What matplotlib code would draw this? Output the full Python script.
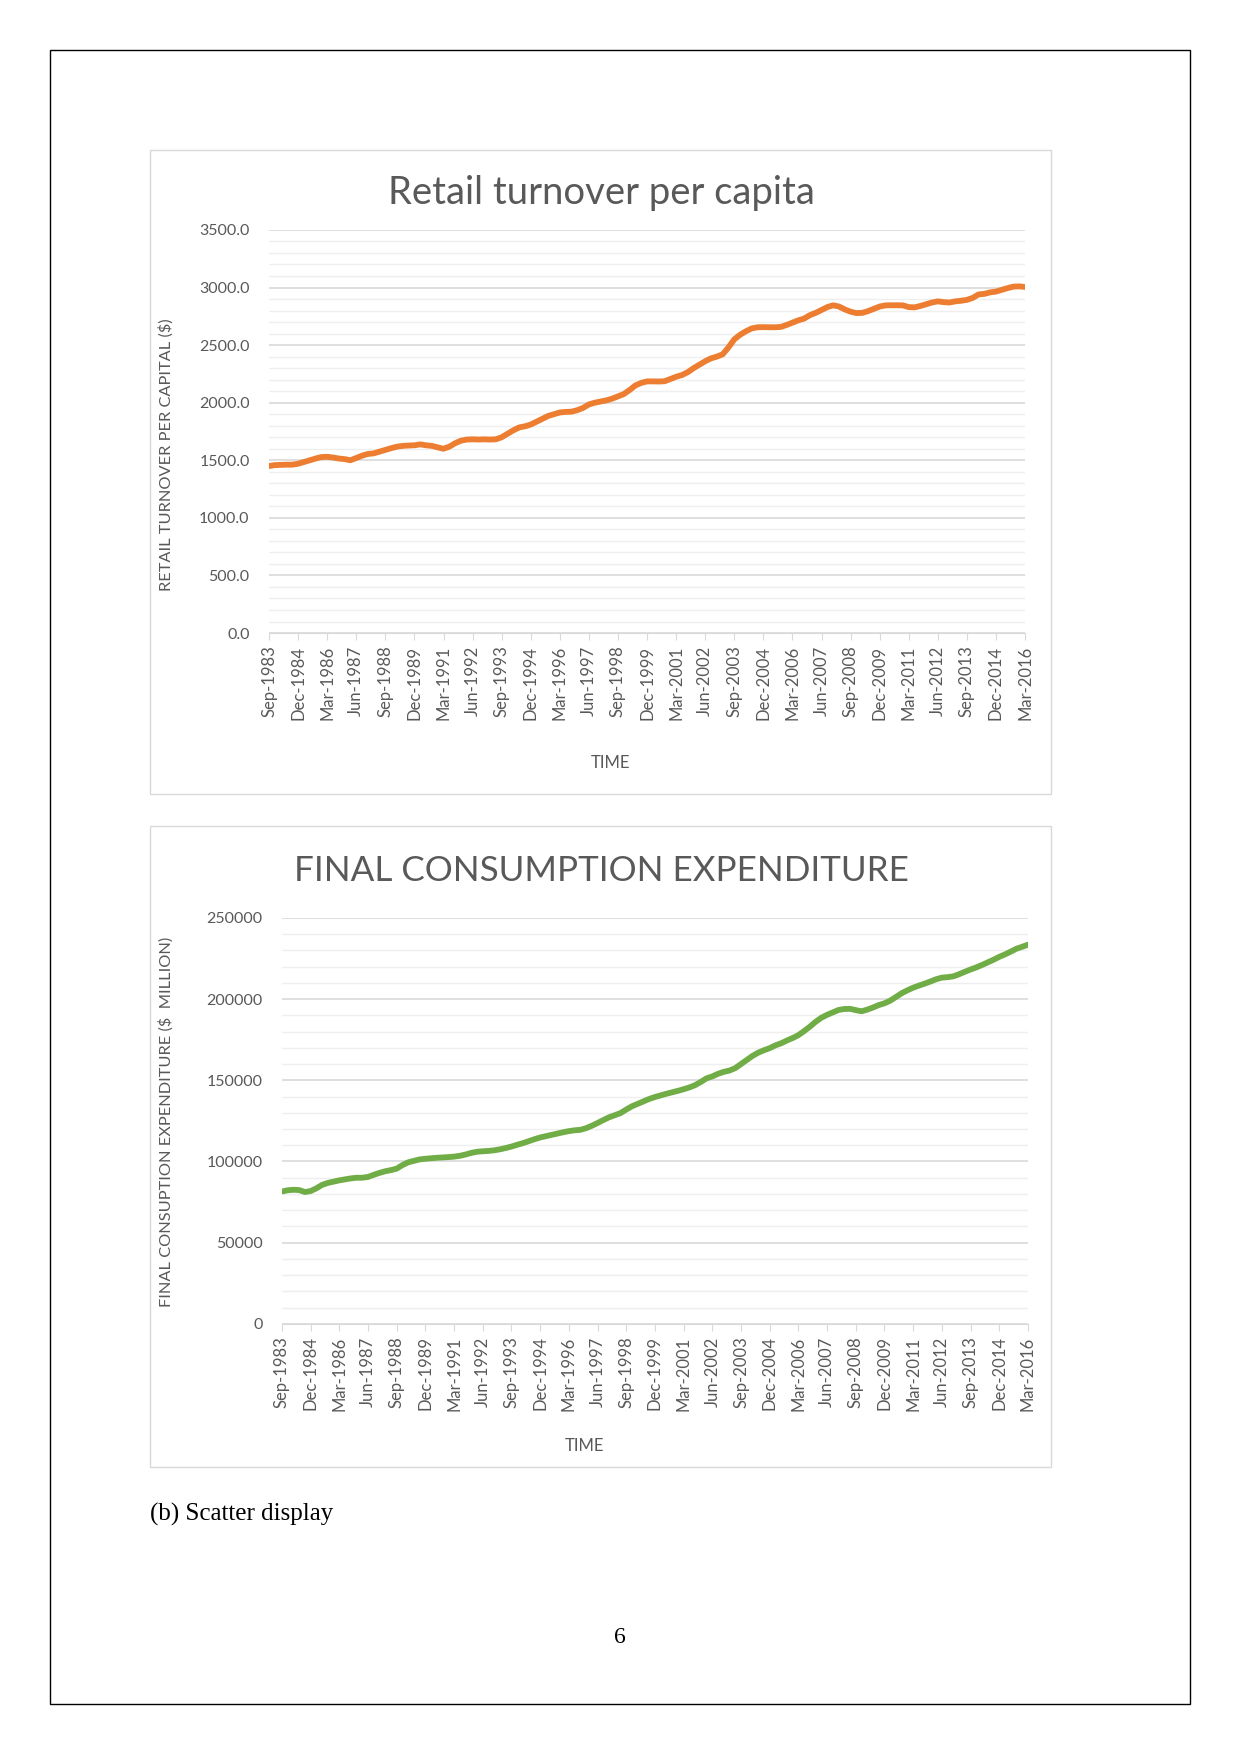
import numpy as np
import matplotlib
matplotlib.use("Agg")
import matplotlib.pyplot as plt
from matplotlib.patches import Rectangle
from matplotlib.ticker import MultipleLocator, FixedLocator

# quarterly labels, Sep-1983 .. Mar-2016 (131 quarters), a label every 5th quarter
tick_labels = ["Sep-1983", "Dec-1984", "Mar-1986", "Jun-1987", "Sep-1988", "Dec-1989",
               "Mar-1991", "Jun-1992", "Sep-1993", "Dec-1994", "Mar-1996", "Jun-1997",
               "Sep-1998", "Dec-1999", "Mar-2001", "Jun-2002", "Sep-2003", "Dec-2004",
               "Mar-2006", "Jun-2007", "Sep-2008", "Dec-2009", "Mar-2011", "Jun-2012",
               "Sep-2013", "Dec-2014", "Mar-2016"]

retail = [1450, 1458, 1460, 1462, 1462, 1470, 1485, 1500, 1515, 1528,
          1530, 1524, 1515, 1510, 1500, 1520, 1540, 1555, 1560, 1575,
          1590, 1605, 1618, 1625, 1628, 1630, 1638, 1630, 1625, 1612,
          1600, 1618, 1648, 1670, 1680, 1682, 1680, 1682, 1680, 1682,
          1700, 1730, 1760, 1785, 1795, 1810, 1835, 1860, 1885, 1900,
          1915, 1920, 1922, 1935, 1955, 1985, 2000, 2010, 2020, 2035,
          2055, 2075, 2110, 2150, 2172, 2185, 2185, 2184, 2186, 2205,
          2225, 2240, 2265, 2300, 2330, 2360, 2385, 2400, 2420, 2480,
          2550, 2590, 2620, 2645, 2655, 2656, 2655, 2655, 2658, 2675,
          2695, 2715, 2730, 2760, 2780, 2805, 2830, 2846, 2835, 2810,
          2790, 2778, 2780, 2795, 2815, 2835, 2845, 2846, 2846, 2845,
          2830, 2828, 2840, 2855, 2870, 2880, 2873, 2870, 2880, 2885,
          2893, 2910, 2940, 2945, 2958, 2965, 2980, 2995, 3008, 3010,
          3005]

fce = [81500, 82300, 82600, 82400, 81200, 81800, 83500, 85600, 86800, 87600,
       88400, 89000, 89600, 90000, 90000, 90500, 91800, 93000, 94000, 94700,
       95600, 97800, 99500, 100400, 101300, 101700, 102000, 102300, 102500, 102700,
       103000, 103500, 104300, 105300, 106000, 106300, 106500, 106900, 107500, 108300,
       109200, 110300, 111300, 112500, 113700, 114800, 115600, 116400, 117200, 118000,
       118700, 119200, 119500, 120500, 122000, 123700, 125500, 127200, 128500, 129800,
       132000, 134000, 135500, 137000, 138500, 139700, 140700, 141700, 142600, 143500,
       144500, 145600, 147000, 149000, 151200, 152400, 154000, 155200, 156000, 157500,
       160000, 162500, 165000, 167000, 168500, 169800, 171500, 172800, 174500, 176000,
       177800, 180300, 183000, 186000, 188500, 190300, 191800, 193300, 193900, 194000,
       193200, 192500, 193500, 194800, 196300, 197400, 199000, 201300, 203600, 205400,
       207000, 208300, 209500, 210800, 212200, 213200, 213500, 214000, 215300, 216800,
       218200, 219500, 221000, 222600, 224200, 226000, 227500, 229200, 231000, 232200,
       233500]

FONT = ["Lato", "DejaVu Sans"]
TXT = "#595959"

fig = plt.figure(figsize=(12.41, 17.54), dpi=100)

# page frame and chart boxes
fig.patches.append(Rectangle((0.0403, 0.0285), 0.9186, 0.9430, transform=fig.transFigure,
                             fill=False, edgecolor="black", linewidth=1))
fig.patches.append(Rectangle((0.1209, 0.5473), 0.7260, 0.3672, transform=fig.transFigure,
                             fill=False, edgecolor="#d9d9d9", linewidth=1))
fig.patches.append(Rectangle((0.1209, 0.1636), 0.7260, 0.3655, transform=fig.transFigure,
                             fill=False, edgecolor="#d9d9d9", linewidth=1))


def style(ax, ymax, major, minor, fmt):
    x = np.arange(len(retail))
    ax.set_xlim(0, len(x) - 1)
    ax.set_ylim(0, ymax)
    ax.yaxis.set_major_locator(MultipleLocator(major))
    ax.yaxis.set_minor_locator(MultipleLocator(minor))
    ax.xaxis.set_major_locator(FixedLocator(np.arange(0, len(x), 5)))
    ax.set_xticklabels(tick_labels, rotation=90, fontsize=12, color=TXT, family=FONT)
    ax.set_yticks(ax.get_yticks())
    ax.set_yticklabels([fmt(v) for v in ax.get_yticks()], fontsize=11.5, color=TXT, family=FONT)
    ax.set_ylim(0, ymax)
    ax.grid(which="major", axis="y", color="#d9d9d9", linewidth=1.2)
    ax.grid(which="minor", axis="y", color="#efefef", linewidth=1.0)
    ax.set_axisbelow(True)
    for s in ["top", "right", "left"]:
        ax.spines[s].set_visible(False)
    ax.spines["bottom"].set_color("#d9d9d9")
    ax.tick_params(axis="y", which="both", length=0, pad=14)
    ax.tick_params(axis="x", length=5, color="#d9d9d9", pad=4)


# Retail turnover chart
ax1 = fig.add_axes([0.2168, 0.6391, 0.6092, 0.2298])
ax1.plot(np.arange(len(retail)), retail, color="#ED7D31", linewidth=4.2, solid_capstyle="round")
style(ax1, 3500, 500, 100, lambda v: f"{v:.1f}")
fig.text(0.4843, 0.8900, "Retail turnover per capita", ha="center", va="center",
         fontsize=27.5, color=TXT, family=FONT)
fig.text(0.1338, 0.7410, "RETAIL TURNOVER PER CAPITAL ($)", rotation=90, ha="center",
         va="center", fontsize=11.8, color=TXT, family=FONT)
fig.text(0.4923, 0.5650, "TIME", ha="center", va="center", fontsize=12, color=TXT, family=FONT)

# Final consumption expenditure chart
ax2 = fig.add_axes([0.2272, 0.2452, 0.6011, 0.2315])
ax2.plot(np.arange(len(fce)), fce, color="#70AD47", linewidth=4.2, solid_capstyle="round")
style(ax2, 250000, 50000, 10000, lambda v: f"{v:.0f}")
fig.text(0.4843, 0.5034, "FINAL CONSUMPTION EXPENDITURE", ha="center", va="center",
         fontsize=25.2, color=TXT, family=FONT)
fig.text(0.1338, 0.3603, "FINAL CONSUPTION EXPENDITURE ($  MILLION)", rotation=90,
         ha="center", va="center", fontsize=11.8, color=TXT, family=FONT)
fig.text(0.4706, 0.1756, "TIME", ha="center", va="center", fontsize=12, color=TXT, family=FONT)

# caption and page number
fig.text(0.1209, 0.1368, "(b) Scatter display", ha="left", va="center", fontsize=18,
         family="Liberation Serif", color="black")
fig.text(0.4996, 0.0662, "6", ha="center", va="center", fontsize=17,
         family="Liberation Serif", color="black")

fig.savefig("out.png", dpi=100)
